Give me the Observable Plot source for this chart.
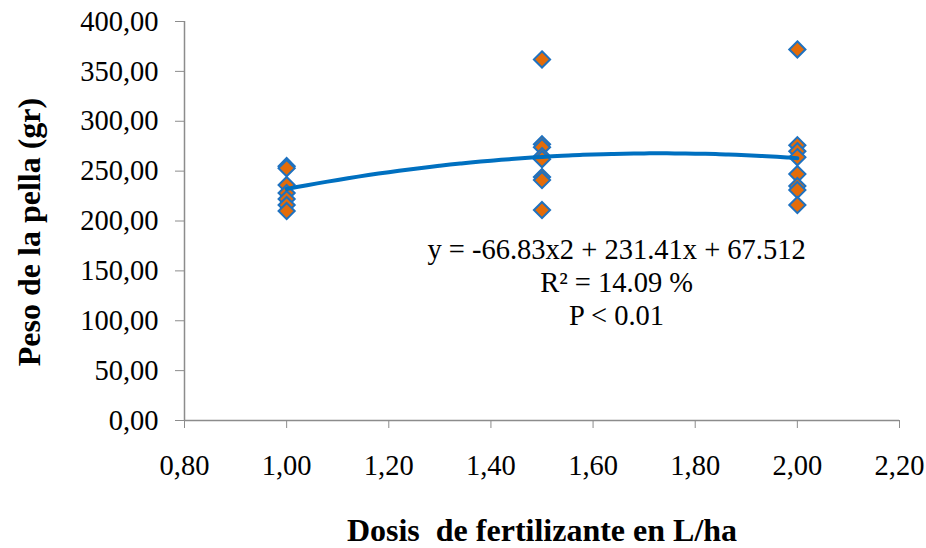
<!DOCTYPE html>
<html>
<head>
<meta charset="utf-8">
<script src="https://cdn.jsdelivr.net/npm/d3@7"></script>
<script src="https://cdn.jsdelivr.net/npm/@observablehq/plot@0.6"></script>
<style>
  html, body { margin: 0; padding: 0; background: #ffffff; }
</style>
</head>
<body>
<div id="chart"></div>
<script>
// Head weight (g) by fertilizer dose (L/ha)
const doses = [1.0, 1.5, 2.0];
const weightsDose1 = [255, 253, 236, 228, 222, 216, 210];
const weightsDose15 = [362, 277, 274, 265, 262, 244, 241, 211];
const weightsDose2 = [372, 276, 270, 264, 247, 235, 231, 216];

// Quadratic trend: y = a x^2 + b x + c
const trendCoef = [-66.83, 231.41, 67.512];
const trendRange = [1.0, 2.0];

const xTicks = [0.8, 1.0, 1.2, 1.4, 1.6, 1.8, 2.0, 2.2];
const yTicks = [0, 50, 100, 150, 200, 250, 300, 350, 400];

const annotation = ["y = -66.83x2 + 231.41x + 67.512", "R² = 14.09 %", "P < 0.01"];
const xLabel = "Dosis\u00a0 de fertilizante en L/ha";
const yLabel = "Peso de la pella (gr)";

const points = [
  ...weightsDose1.map(w => ({dose: doses[0], peso: w})),
  ...weightsDose15.map(w => ({dose: doses[1], peso: w})),
  ...weightsDose2.map(w => ({dose: doses[2], peso: w}))
];

const trend = d3.range(0, 51).map(i => {
  const x = trendRange[0] + (trendRange[1] - trendRange[0]) * i / 50;
  return {dose: x, peso: trendCoef[0] * x * x + trendCoef[1] * x + trendCoef[2]};
});

const fmt = d => d.toFixed(2).replace(".", ",");
const axisGray = "#8c8c8c";
const serif = "Liberation Serif";

const chart = Plot.plot({
  width: 926,
  height: 548,
  marginLeft: 184,
  marginRight: 27,
  marginTop: 21,
  marginBottom: 128,
  style: {fontFamily: serif, fontSize: "28.5px", background: "#ffffff", color: "#000000"},
  x: {domain: [0.8, 2.2], ticks: xTicks},
  y: {domain: [0, 400], ticks: yTicks},
  marks: [
    Plot.axisX({ticks: xTicks, tickFormat: fmt, tickSize: 8, tickPadding: 26, stroke: axisGray, fill: "#000000", label: null, fontSize: 28.5, fontFamily: serif}),
    Plot.axisY({ticks: yTicks, tickFormat: fmt, tickSize: 9, tickPadding: 17, stroke: axisGray, fill: "#000000", label: null, fontSize: 28.5, fontFamily: serif}),
    Plot.ruleX([0.8], {stroke: axisGray, strokeWidth: 1.5}),
    Plot.ruleY([0], {stroke: axisGray, strokeWidth: 1.5}),
    Plot.dot(points, {x: "dose", y: "peso", symbol: "diamond2", r: 7.3, fill: "#e36c09", stroke: "#1f72c0", strokeWidth: 2}),
    Plot.line(trend, {x: "dose", y: "peso", stroke: "#0070c0", strokeWidth: 4, curve: "natural"}),
    Plot.text([annotation.join("\n")], {x: 1.646, y: 139.5, lineAnchor: "middle", lineHeight: 1.15, textAnchor: "middle", fill: "#000000", fontSize: 28.5, fontFamily: serif}),
    Plot.text([xLabel], {frameAnchor: "bottom", dy: 110, lineAnchor: "middle", textAnchor: "middle", fontWeight: "bold", fontSize: 32, fontFamily: serif, fill: "#000000"}),
    Plot.text([yLabel], {frameAnchor: "left", rotate: -90, dx: -155, dy: 11, lineAnchor: "middle", textAnchor: "middle", fontWeight: "bold", fontSize: 32, fontFamily: serif, fill: "#000000"})
  ]
});

document.getElementById("chart").appendChild(chart);
</script>
</body>
</html>
